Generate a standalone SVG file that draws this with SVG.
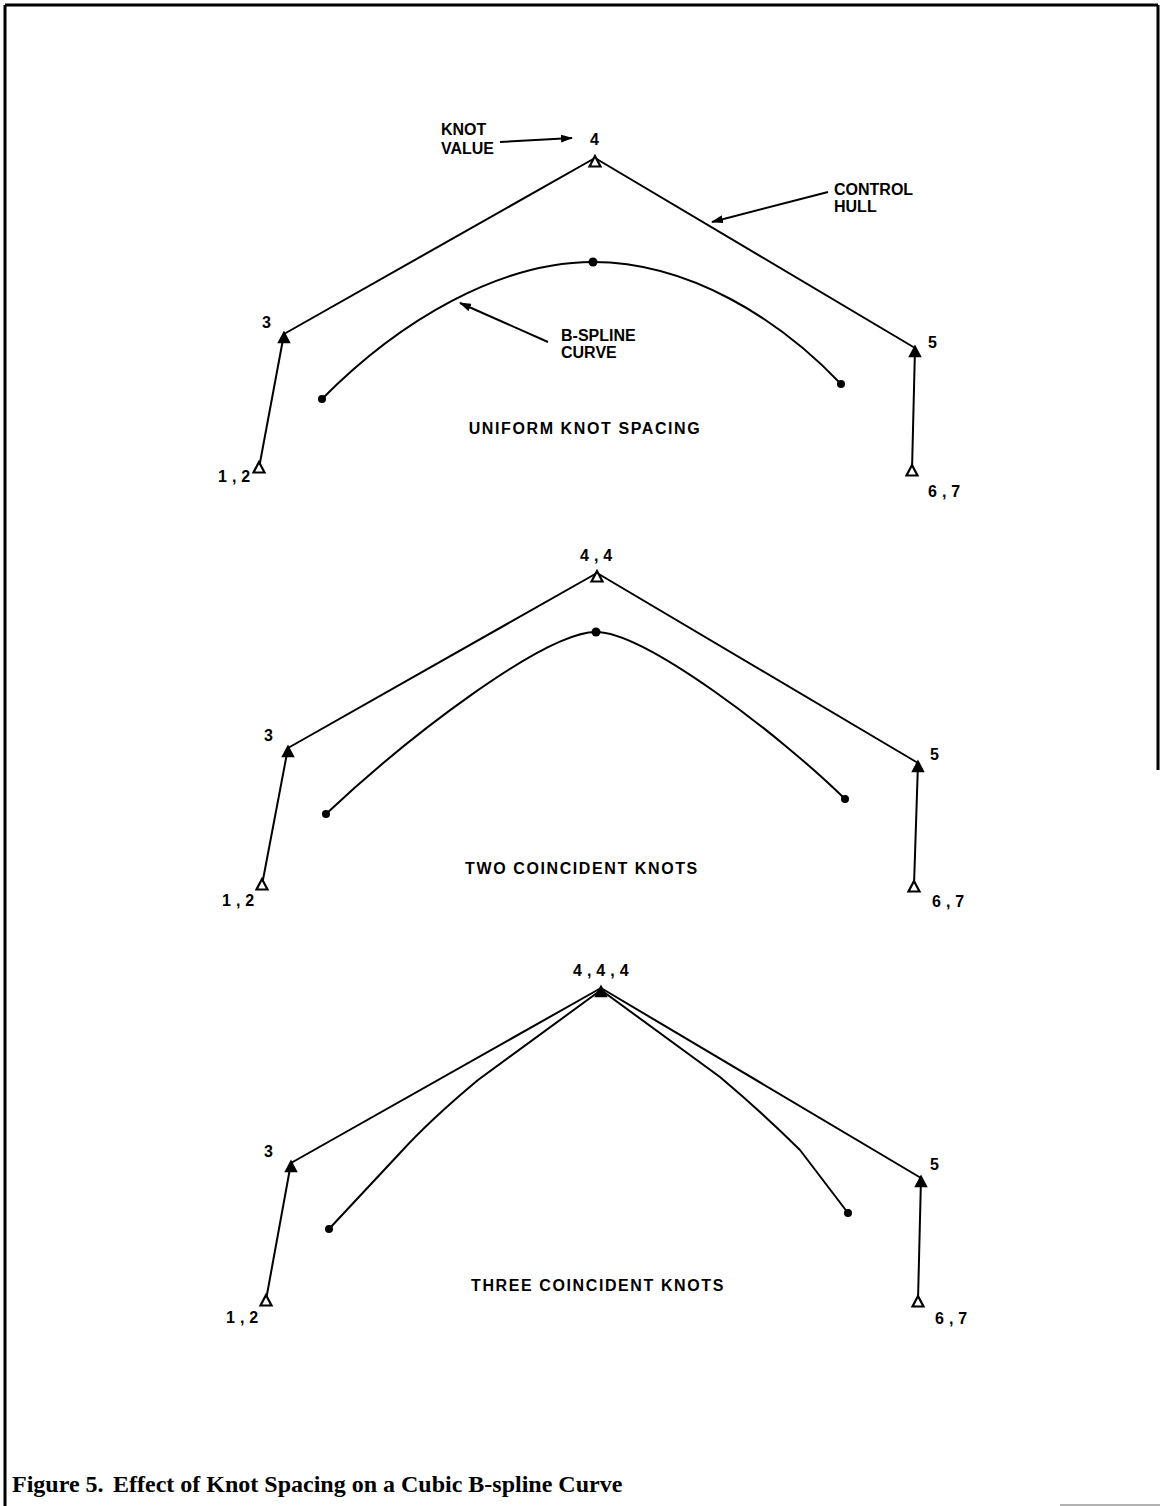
<svg xmlns="http://www.w3.org/2000/svg" width="1160" height="1506" viewBox="0 0 1160 1506">
  <defs>
    <style>
      .frame { stroke: #000; stroke-width: 3; fill: none; }
      .hull { stroke: #000; stroke-width: 2; fill: none; stroke-linejoin: round; }
      .curve { stroke: #000; stroke-width: 2; fill: none; stroke-linejoin: round; }
      .lead { stroke: #000; stroke-width: 2; fill: none; }
      .tri-open { fill: #fff; stroke: #000; stroke-width: 2.2; stroke-linejoin: miter; }
      .tri-solid { fill: #000; stroke: #000; stroke-width: 1.5; }
      .dot { fill: #000; }
      .lbl { font-family: "Liberation Sans", Arial, sans-serif; font-weight: bold; font-size: 16px; fill: #000; }
      .num { font-family: "Liberation Sans", Arial, sans-serif; font-weight: bold; font-size: 16px; fill: #000; letter-spacing: 5px; }
      .title { font-family: "Liberation Sans", Arial, sans-serif; font-weight: bold; font-size: 16px; fill: #000; letter-spacing: 1.6px; text-anchor: middle; }
      .caption { font-family: "Liberation Serif", "Times New Roman", serif; font-weight: bold; font-size: 24px; fill: #000; }
    </style>
    <path id="tri" d="M0,-6 L-5.5,4.5 L5.5,4.5 Z"/>
    <marker id="arrow" viewBox="0 0 12 8" refX="11" refY="4" markerWidth="12" markerHeight="8" markerUnits="userSpaceOnUse" orient="auto">
      <path d="M0,0 L12,4 L0,8 Z" fill="#000"/>
    </marker>
  </defs>

  <rect width="1160" height="1506" fill="#fff"/>

  <!-- page frame -->
  <g id="frame">
    <line class="frame" x1="5" y1="5" x2="1158" y2="5"/>
    <line class="frame" x1="5" y1="5" x2="5" y2="1506"/>
    <line class="frame" x1="1158" y1="5" x2="1158" y2="770" stroke-width="2"/>
    <line x1="1060" y1="1505" x2="1160" y2="1505" stroke="#999" stroke-width="1.5"/>
  </g>

  <g id="connectors">
    <!-- panel 1 hull -->
    <polyline class="hull" points="259,468 284,334 595,158 915,348 912,470"/>
    <!-- panel 1 curve -->
    <path class="curve" d="M322,399 C400,320 500,262 593,262 C690,262 780,320 841,384"/>
    <!-- panel 2 hull -->
    <polyline class="hull" points="262,885 288,748 597,573 918,763 914,885"/>
    <!-- panel 2 curve -->
    <path class="curve" d="M326,814 C410,735 545,632 596,632 C645,632 780,735 845,799"/>
    <!-- panel 3 hull -->
    <polyline class="hull" points="266,1300 291,1163 601,988 921,1178 918,1300"/>
    <!-- panel 3 curve -->
    <path class="curve" d="M329,1229 L400,1153 Q430,1120 478,1080 L601,990 L720,1077 Q765,1115 800,1150 L848,1213"/>
    <!-- annotation leaders -->
    <line class="lead" x1="500" y1="142" x2="572" y2="138" marker-end="url(#arrow)"/>
    <line class="lead" x1="828" y1="192" x2="712" y2="222" marker-end="url(#arrow)"/>
    <line class="lead" x1="548" y1="342" x2="460" y2="303" marker-end="url(#arrow)"/>
  </g>

  <!-- panel 1 control points -->
  <g id="p1-cp12"><use href="#tri" class="tri-open" x="259" y="468"/><text class="num" x="218" y="482">1,2</text></g>
  <g id="p1-cp3"><use href="#tri" class="tri-solid" x="284" y="338"/><text class="num" x="262" y="328">3</text></g>
  <g id="p1-cp4"><use href="#tri" class="tri-open" x="595" y="162"/><text class="num" x="590" y="145">4</text></g>
  <g id="p1-cp5"><use href="#tri" class="tri-solid" x="915" y="352"/><text class="num" x="928" y="348">5</text></g>
  <g id="p1-cp67"><use href="#tri" class="tri-open" x="912" y="471"/><text class="num" x="928" y="497">6,7</text></g>
  <g id="p1-curve-pts">
    <circle class="dot" cx="322" cy="399" r="4"/>
    <circle class="dot" cx="593" cy="262" r="4.5"/>
    <circle class="dot" cx="841" cy="384" r="4"/>
  </g>
  <g id="p1-labels">
    <text class="lbl" x="441" y="135">KNOT</text>
    <text class="lbl" x="441" y="154">VALUE</text>
    <text class="lbl" x="834" y="195">CONTROL</text>
    <text class="lbl" x="834" y="212">HULL</text>
    <text class="lbl" x="561" y="341">B-SPLINE</text>
    <text class="lbl" x="561" y="358">CURVE</text>
    <text class="title" x="585" y="434">UNIFORM KNOT SPACING</text>
  </g>

  <!-- panel 2 control points -->
  <g id="p2-cp12"><use href="#tri" class="tri-open" x="262" y="885"/><text class="num" x="222" y="906">1,2</text></g>
  <g id="p2-cp3"><use href="#tri" class="tri-solid" x="288" y="752"/><text class="num" x="264" y="741">3</text></g>
  <g id="p2-cp44"><use href="#tri" class="tri-open" x="597" y="577"/><text class="num" x="580" y="561">4,4</text></g>
  <g id="p2-cp5"><use href="#tri" class="tri-solid" x="918" y="767"/><text class="num" x="930" y="760">5</text></g>
  <g id="p2-cp67"><use href="#tri" class="tri-open" x="914" y="887"/><text class="num" x="932" y="907">6,7</text></g>
  <g id="p2-curve-pts">
    <circle class="dot" cx="326" cy="814" r="4"/>
    <circle class="dot" cx="596" cy="632" r="4.5"/>
    <circle class="dot" cx="845" cy="799" r="4"/>
  </g>
  <g id="p2-labels">
    <text class="title" x="582" y="874">TWO COINCIDENT KNOTS</text>
  </g>

  <!-- panel 3 control points -->
  <g id="p3-cp12"><use href="#tri" class="tri-open" x="266" y="1301"/><text class="num" x="226" y="1323">1,2</text></g>
  <g id="p3-cp3"><use href="#tri" class="tri-solid" x="291" y="1167"/><text class="num" x="264" y="1157">3</text></g>
  <g id="p3-cp444"><use href="#tri" class="tri-solid" x="601" y="992"/><text class="num" x="573" y="976">4,4,4</text></g>
  <g id="p3-cp5"><use href="#tri" class="tri-solid" x="921" y="1182"/><text class="num" x="930" y="1170">5</text></g>
  <g id="p3-cp67"><use href="#tri" class="tri-open" x="918" y="1302"/><text class="num" x="935" y="1324">6,7</text></g>
  <g id="p3-curve-pts">
    <circle class="dot" cx="329" cy="1229" r="4"/>
    <circle class="dot" cx="848" cy="1213" r="4"/>
  </g>
  <g id="p3-labels">
    <text class="title" x="598" y="1291">THREE COINCIDENT KNOTS</text>
  </g>

  <!-- figure caption -->
  <g id="caption">
    <text class="caption" x="12" y="1492">Figure 5.</text>
    <text class="caption" x="113" y="1492">Effect of Knot Spacing on a Cubic B-spline Curve</text>
  </g>
</svg>
